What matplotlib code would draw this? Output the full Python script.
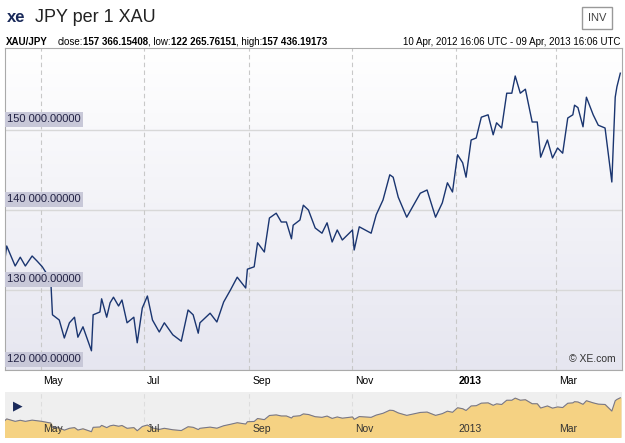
import datetime as dt

import matplotlib
matplotlib.use("Agg")
import matplotlib.dates as mdates
import matplotlib.pyplot as plt
import numpy as np

plt.rcParams["font.family"] = ["Liberation Sans", "DejaVu Sans"]

START = dt.date(2012, 4, 10)
DAYS = [0, 1, 6, 9, 12, 16, 19, 22, 27, 28, 32, 35, 38, 41, 43, 46, 51, 52, 56, 57,
        60, 62, 64, 67, 69, 72, 76, 78, 81, 84, 87, 91, 94, 99, 104, 108, 111, 114, 115,
        121, 125, 129, 133, 137, 142, 143, 147, 149, 153, 156, 160, 163, 166, 169, 170,
        174, 176, 179, 183, 187, 190, 193, 196, 199, 205, 206, 209, 216, 219, 223, 227,
        229, 232, 237, 241, 245, 249, 254, 258, 261, 264, 266, 267, 270, 272, 275, 278,
        281, 285, 288, 290, 293, 296, 299, 301, 304, 307, 311, 314, 316, 320, 322, 323,
        326, 329, 332, 335, 336, 338, 341, 343, 347, 350, 354, 358, 360, 361, 363]
VALUES = [133.9, 135.5, 133.0, 134.1, 133.0, 134.25, 133.6, 132.9, 131.25, 126.9,
          126.25, 124.0, 125.9, 126.6, 124.1, 125.4, 122.4, 126.9, 127.25, 128.9,
          126.6, 128.4, 129.1, 128.0, 128.75, 125.9, 126.6, 123.4, 127.75, 129.25,
          126.25, 124.75, 125.9, 124.4, 123.6, 127.5, 126.9, 124.6, 125.9, 127.1,
          126.0, 128.5, 130.0, 131.6, 130.25, 132.6, 132.9, 135.9, 134.75, 139.0,
          139.6, 138.5, 138.5, 136.4, 138.1, 138.75, 140.6, 140.0, 137.75, 137.1,
          138.4, 136.0, 137.5, 136.25, 137.5, 135.0, 137.9, 137.1, 139.4, 141.25,
          144.4, 144.1, 141.6, 139.1, 140.6, 142.1, 142.5, 139.1, 140.9, 143.4,
          142.25, 145.4, 146.9, 145.9, 144.1, 148.75, 149.0, 151.6, 151.9, 149.4,
          150.9, 150.25, 154.6, 154.6, 156.75, 154.6, 155.1, 151.0, 151.0, 146.6,
          148.75, 147.25, 146.5, 147.75, 147.1, 151.5, 151.9, 153.1, 152.8, 150.4,
          154.1, 151.9, 150.6, 150.25, 143.5, 154.1, 155.4, 157.1]
Y_TICKS = [120000, 130000, 140000, 150000]
MONTHS = [("May", dt.date(2012, 5, 1)), ("Jul", dt.date(2012, 7, 1)),
          ("Sep", dt.date(2012, 9, 1)), ("Nov", dt.date(2012, 11, 1)),
          ("2013", dt.date(2013, 1, 1)), ("Mar", dt.date(2013, 3, 1))]
HEADER = [("XAU/JPY", "bold", 10), ("close:", "normal", 0), ("157 366.15408", "bold", 0),
          (", low:", "normal", 0), ("122 265.76151", "bold", 0), (", high:", "normal", 0),
          ("157 436.19173", "bold", 0)]

dates = [START + dt.timedelta(days=d) for d in DAYS]
vals = np.array(VALUES) * 1000
x0, x1 = START, dt.date(2013, 4, 9)

fig = plt.figure(figsize=(6.25, 4.43), dpi=100)
W, H = 625, 443

fig.text(35 / W, 1 - 18 / H, "JPY per 1 XAU", fontsize=13, va="center", color="#222222")
fig.text(7 / W, 1 - 18 / H, "xe", fontsize=12, fontweight="bold", va="center", color="#1a2a5a")
fig.text(597 / W, 1 - 18 / H, "INV", fontsize=8, va="center", ha="center", color="#444444",
         bbox=dict(boxstyle="square,pad=0.5", fc="white", ec="#999999"))

# header pieces laid out one after another
renderer = fig.canvas.get_renderer()
xpos = 6
for txt, weight, gap in HEADER:
    t = fig.text(xpos / W, 1 - 42 / H, txt, fontsize=7, fontweight=weight, va="center")
    xpos += t.get_window_extent(renderer).width + gap
fig.text(620 / W, 1 - 42 / H, "10 Apr, 2012 16:06 UTC - 09 Apr, 2013 16:06 UTC",
         fontsize=7, ha="right", va="center")

ax = fig.add_axes([5 / W, 73 / H, 617 / W, 322 / H])
ymin, ymax = 120000, 160250
grad = np.linspace(1, 0, 256).reshape(-1, 1)
ax.imshow(grad, aspect="auto", cmap=matplotlib.colors.LinearSegmentedColormap.from_list(
    "bg", ["#e6e6f0", "#ffffff"]), extent=[mdates.date2num(x0), mdates.date2num(x1), ymin, ymax],
    origin="upper", zorder=0)
ax.set_xlim(x0, x1)
ax.set_ylim(ymin, ymax)
for t in Y_TICKS:
    ax.axhline(t, color="#d8d8d8", lw=1, zorder=1)
    ax.text(0.003, t + 700, f"{t // 1000} 000.00000", transform=ax.get_yaxis_transform(),
            fontsize=8, color="#222244", va="bottom",
            bbox=dict(boxstyle="square,pad=0.2", fc="#c8c8d8", ec="none"), zorder=3)
for name, d in MONTHS:
    ax.axvline(d, color="#c8c8c8", lw=0.8, ls=(0, (4, 3)), zorder=1)
ax.plot(dates, vals, color="#1a3570", lw=1.0, zorder=2)
ax.text(0.99, 0.02, "© XE.com", transform=ax.transAxes, ha="right", va="bottom",
        fontsize=7.5, color="#333333")
ax.set_xticks([])
ax.set_yticks([])
for s in ax.spines.values():
    s.set_color("#aaaaaa")

for name, d in MONTHS:
    xf = (5 + 617 * (d - x0).days / (x1 - x0).days + 3) / W
    fig.text(xf, 1 - 381 / H, name, fontsize=7.5, va="center",
             fontweight="bold" if name == "2013" else "normal")
    fig.text(xf, 1 - 429 / H, name, fontsize=7.5, va="center", color="#333333")

nav = fig.add_axes([5 / W, 6 / H, 617 / W, 45 / H])
nav.set_facecolor("#efefef")
nav.fill_between(dates, vals, 0, color="#f5d283", zorder=1)
nav.plot(dates, vals, color="#777788", lw=0.8, zorder=2)
nav.set_xlim(x0, x1)
nav.set_ylim(117000, 163000)
for name, d in MONTHS:
    nav.axvline(d, color="#dddddd", lw=0.8, ls=(0, (4, 3)), zorder=0)
nav.set_xticks([])
nav.set_yticks([])
for s in nav.spines.values():
    s.set_visible(False)
fig.text(18 / W, 1 - 406 / H, "▶", fontsize=9, color="#1a2a5a", ha="center", va="center",
         family="DejaVu Sans")

fig.savefig("out.png", dpi=100)
